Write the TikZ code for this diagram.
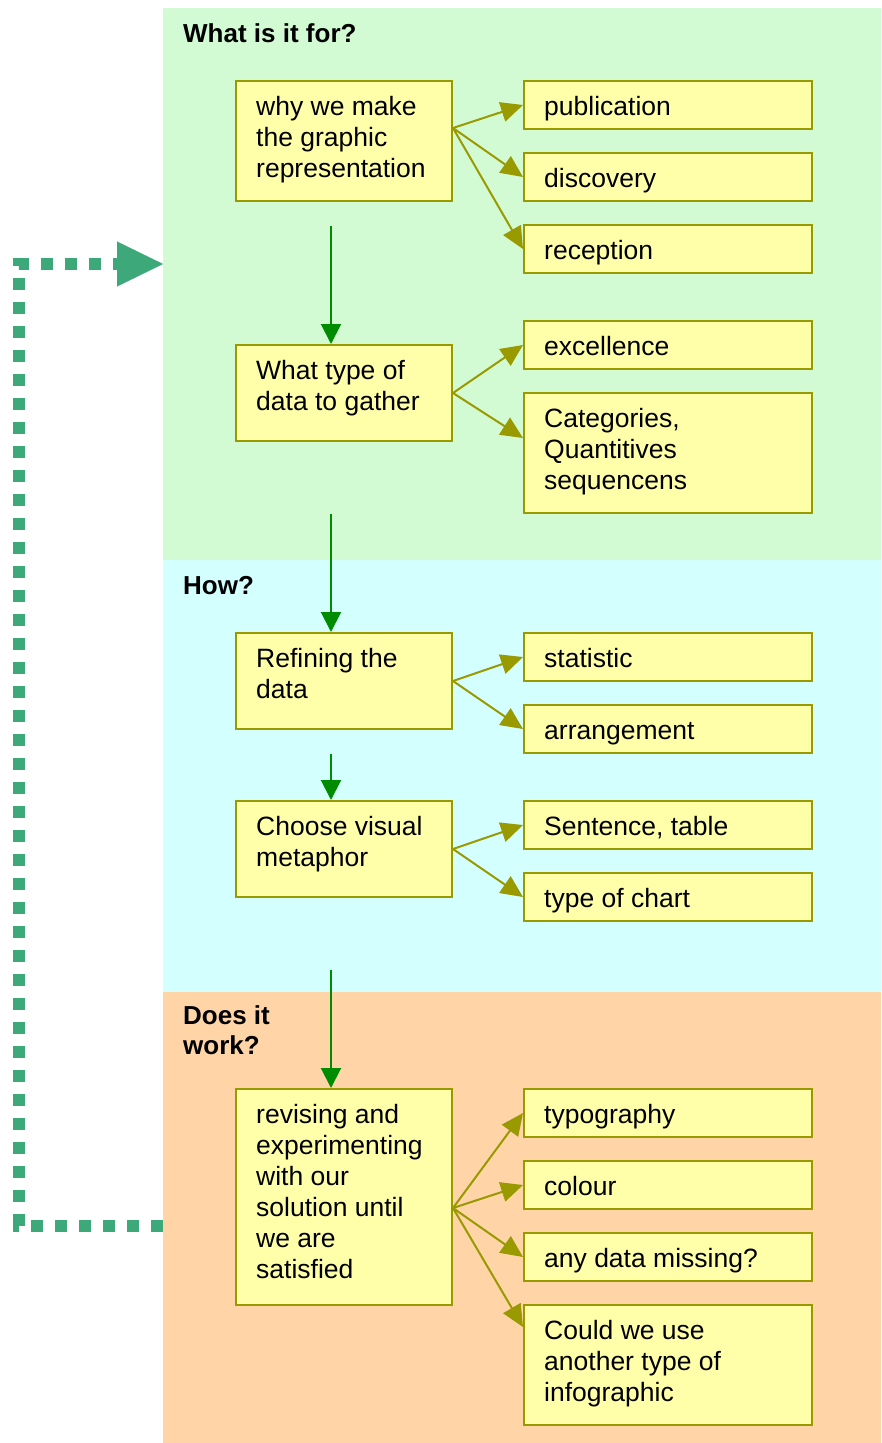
\documentclass[tikz,border=0pt]{standalone}
\usepackage{fontspec}
\setmainfont{Liberation Sans}
\usetikzlibrary{arrows.meta, calc}

\definecolor{forgreen}{RGB}{211,251,211}
\definecolor{howcyan}{RGB}{211,255,255}
\definecolor{workorange}{RGB}{255,213,168}
\definecolor{boxfill}{RGB}{255,255,170}
\definecolor{boxline}{RGB}{153,153,0}
\definecolor{downgreen}{RGB}{0,140,0}
\definecolor{loopgreen}{RGB}{61,168,122}

\newcommand{\boxtextfont}{\fontsize{26.5}{31}\selectfont}
\newcommand{\paneltitlefont}{\bfseries\fontsize{26}{30}\selectfont}

\tikzset{
	panel/.style={anchor=north west, inner sep=0pt, outer sep=0pt},
	stepbox/.style={draw=boxline, fill=boxfill, line width=2pt, anchor=north west, inner sep=0pt},
	leftbox/.style={stepbox, minimum width=216pt},
	rightbox/.style={stepbox, minimum width=288pt},
	txt/.style={anchor=north west, inner sep=0pt, align=left, font=\boxtextfont, execute at begin node=\strut},
	paneltitle/.style={anchor=north west, inner sep=0pt, align=left, font=\paneltitlefont, execute at begin node=\strut},
	down/.style={draw=downgreen, line width=2pt, -{Triangle[length=20pt, width=20pt]}},
	side/.style={draw=boxline, line width=2pt, -{Triangle[length=22pt, width=20pt]}},
	loopline/.style={draw=loopgreen, line width=12pt, dash pattern=on 12pt off 12pt, -{Triangle[length=46pt, width=45pt, line width=0.1pt]}}
}

\begin{document}
\begin{tikzpicture}[x=1pt, y=-1pt]
	
	\useasboundingbox (0,0) rectangle (881,1443);
	
	% the three stages
	\node[panel, fill=forgreen, minimum width=718pt, minimum height=552pt] (forpanel) at (163,8) {};
	\node[panel, fill=howcyan, minimum width=718pt, minimum height=432pt] (howpanel) at (163,560) {};
	\node[panel, fill=workorange, minimum width=718pt, minimum height=451pt] (workpanel) at (163,992) {};
	
	\node[paneltitle] (fortitle) at ($(forpanel.north west)+(20,13)$) {What is it for?};
	\node[paneltitle] (howtitle) at ($(howpanel.north west)+(20,13)$) {How?};
	\node[paneltitle] (worktitle) at ($(workpanel.north west)+(20,13)$) {Does it\\work?};
	
	% back to the start
	\coordinate (loopcorner) at (19,264);
	\draw[loopline] ($(workpanel.north west)+(0,234)$) -| (loopcorner) -- ($(forpanel.north west)+(0,256)$);
	
	% main steps
	\node[leftbox, minimum height=120pt] (why) at (235,80) {};
	\node[txt] (whyt) at ($(why.north west)+(21,16)$) {why we make\\the graphic\\representation};
	
	\node[leftbox, minimum height=96pt] (type) at (235,344) {};
	\node[txt] (typet) at ($(type.north west)+(21,16)$) {What type of\\data to gather};
	
	\node[leftbox, minimum height=96pt] (refine) at (235,632) {};
	\node[txt] (refinet) at ($(refine.north west)+(21,16)$) {Refining the\\data};
	
	\node[leftbox, minimum height=96pt] (metaphor) at (235,800) {};
	\node[txt] (metaphort) at ($(metaphor.north west)+(21,16)$) {Choose visual\\metaphor};
	
	\node[leftbox, minimum height=216pt] (revise) at (235,1088) {};
	\node[txt] (reviset) at ($(revise.north west)+(21,16)$) {revising and\\experimenting\\with our\\solution until\\we are\\satisfied};
	
	% details
	\node[rightbox, minimum height=48pt] (publication) at (523,80) {};
	\node[txt] (publicationt) at ($(publication.north west)+(21,14)$) {publication};
	\node[rightbox, minimum height=48pt] (discovery) at (523,152) {};
	\node[txt] (discoveryt) at ($(discovery.north west)+(21,14)$) {discovery};
	\node[rightbox, minimum height=48pt] (reception) at (523,224) {};
	\node[txt] (receptiont) at ($(reception.north west)+(21,14)$) {reception};
	
	\node[rightbox, minimum height=48pt] (excellence) at (523,320) {};
	\node[txt] (excellencet) at ($(excellence.north west)+(21,14)$) {excellence};
	\node[rightbox, minimum height=120pt] (categories) at (523,392) {};
	\node[txt] (categoriest) at ($(categories.north west)+(21,16)$) {Categories,\\Quantitives\\sequencens};
	
	\node[rightbox, minimum height=48pt] (statistic) at (523,632) {};
	\node[txt] (statistict) at ($(statistic.north west)+(21,14)$) {statistic};
	\node[rightbox, minimum height=48pt] (arrangement) at (523,704) {};
	\node[txt] (arrangementt) at ($(arrangement.north west)+(21,14)$) {arrangement};
	
	\node[rightbox, minimum height=48pt] (sentence) at (523,800) {};
	\node[txt] (sentencet) at ($(sentence.north west)+(21,14)$) {Sentence, table};
	\node[rightbox, minimum height=48pt] (chart) at (523,872) {};
	\node[txt] (chartt) at ($(chart.north west)+(21,14)$) {type of chart};
	
	\node[rightbox, minimum height=48pt] (typography) at (523,1088) {};
	\node[txt] (typographyt) at ($(typography.north west)+(21,14)$) {typography};
	\node[rightbox, minimum height=48pt] (colour) at (523,1160) {};
	\node[txt] (colourt) at ($(colour.north west)+(21,14)$) {colour};
	\node[rightbox, minimum height=48pt] (missing) at (523,1232) {};
	\node[txt] (missingt) at ($(missing.north west)+(21,14)$) {any data missing?};
	\node[rightbox, minimum height=120pt] (another) at (523,1304) {};
	\node[txt] (anothert) at ($(another.north west)+(21,16)$) {Could we use\\another type of\\infographic};
	
	% flow
	\draw[down] ($(why.south west)+(96,24)$) -- ($(type.north west)+(96,0)$);
	\draw[down] ($(type.south west)+(96,72)$) -- ($(refine.north west)+(96,0)$);
	\draw[down] ($(refine.south west)+(96,24)$) -- ($(metaphor.north west)+(96,0)$);
	\draw[down] ($(metaphor.south west)+(96,72)$) -- ($(revise.north west)+(96,0)$);
	
	\coordinate (whyout) at ($(why.north east)+(0,48)$);
	\coordinate (reviseout) at ($(revise.north east)+(0,120)$);
	\foreach \b in {publication, discovery, reception}
		\draw[side] (whyout) -- (\b.west);
	\draw[side] (type.east) -- (excellence.west);
	\draw[side] (type.east) -- ($(categories.north west)+(0,46)$);
	\draw[side] (refine.east) -- (statistic.west);
	\draw[side] (refine.east) -- (arrangement.west);
	\draw[side] (metaphor.east) -- (sentence.west);
	\draw[side] (metaphor.east) -- (chart.west);
	\foreach \b in {typography, colour, missing}
		\draw[side] (reviseout) -- (\b.west);
	\draw[side] (reviseout) -- ($(another.north west)+(0,23)$);
	
\end{tikzpicture}
\end{document}
